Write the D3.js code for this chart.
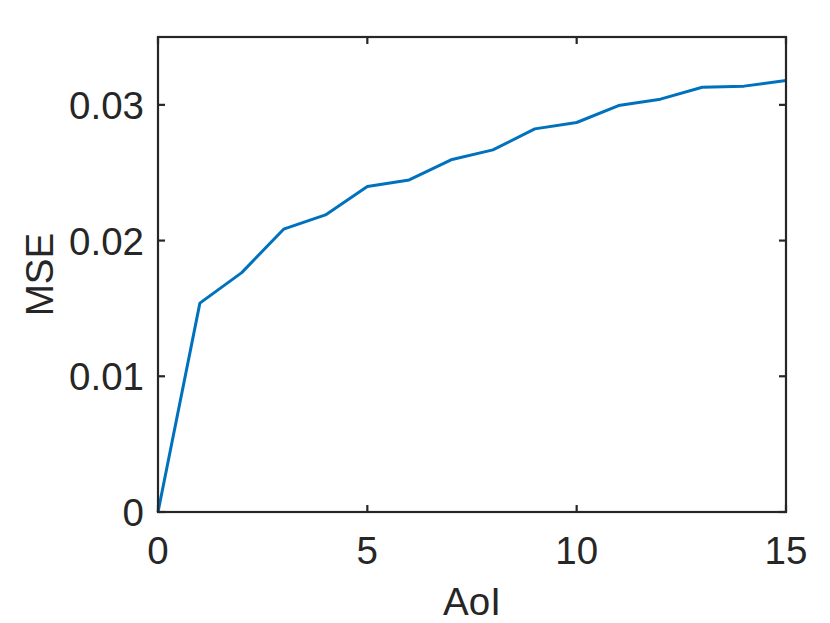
<!DOCTYPE html>
<html><head><meta charset="utf-8">
<script src="https://cdn.jsdelivr.net/npm/d3@7"></script>
<style>body{margin:0;background:#fff}</style>
</head><body>
<svg id="c" width="830" height="623"></svg>
<script>
const aoi = [0,1,2,3,4,5,6,7,8,9,10,11,12,13,14,15];
const mse = [0,0.01539,0.01764,0.02084,0.02189,0.02398,0.02447,0.02595,0.02668,0.02823,0.0287,0.02995,0.03042,0.0313,0.03138,0.03179];
const xTicks = [0,5,10,15];
const yTicks = [0,0.01,0.02,0.03];
const yTickLabels = ["0","0.01","0.02","0.03"];

const svg = d3.select("#c");
const L=158,R=786,T=37,B=512;
const x = d3.scaleLinear().domain([0,15]).range([L,R]);
const y = d3.scaleLinear().domain([0,0.035]).range([B,T]);
const ac = "#262626", fs = 38.5, font = "Liberation Sans, Arial, sans-serif";

const line = d3.line().x((d,i)=>x(aoi[i])).y(d=>y(d));
svg.append("path").datum(mse).attr("d",line).attr("fill","none")
  .attr("stroke","#0072BD").attr("stroke-width",3).attr("stroke-linejoin","round");

const g = svg.append("g");
g.append("rect").attr("x",L).attr("y",T).attr("width",R-L).attr("height",B-T)
  .attr("fill","none").attr("stroke",ac).attr("stroke-width",2.2);
const tl = 7;
xTicks.forEach(t=>{
  g.append("line").attr("x1",x(t)).attr("x2",x(t)).attr("y1",B).attr("y2",B-tl).attr("stroke",ac).attr("stroke-width",2.2);
  g.append("line").attr("x1",x(t)).attr("x2",x(t)).attr("y1",T).attr("y2",T+tl).attr("stroke",ac).attr("stroke-width",2.2);
  g.append("text").attr("x",x(t)).attr("y",B+52).attr("text-anchor","middle")
    .attr("font-family",font).attr("font-size",fs).attr("fill",ac).text(t);
});
yTicks.forEach((t,i)=>{
  g.append("line").attr("x1",L).attr("x2",L+tl).attr("y1",y(t)).attr("y2",y(t)).attr("stroke",ac).attr("stroke-width",2.2);
  g.append("line").attr("x1",R).attr("x2",R-tl).attr("y1",y(t)).attr("y2",y(t)).attr("stroke",ac).attr("stroke-width",2.2);
  g.append("text").attr("x",L-14).attr("y",y(t)+14).attr("text-anchor","end")
    .attr("font-family",font).attr("font-size",fs).attr("fill",ac).text(yTickLabels[i]);
});
g.append("text").attr("x",(L+R)/2).attr("y",615).attr("text-anchor","middle")
  .attr("font-family",font).attr("font-size",fs).attr("fill",ac).text("AoI");
g.append("text").attr("transform",`translate(53,${(T+B)/2}) rotate(-90)`).attr("text-anchor","middle")
  .attr("font-family",font).attr("font-size",fs).attr("fill",ac).text("MSE");
</script>
</body></html>
